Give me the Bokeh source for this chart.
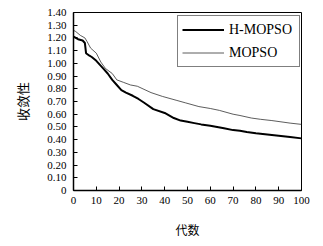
from bokeh.plotting import figure
from bokeh.models import Legend, LegendItem, FixedTicker, CustomJSTickFormatter
from bokeh.embed import file_html
from bokeh.resources import INLINE

# Data
h_gen = [0, 2, 4, 5, 5.5, 7, 8, 10, 11, 13, 15, 17, 19, 21, 23, 26, 28.5, 31, 35, 40, 44, 47,
         50, 53, 56, 60, 63, 66, 70, 73, 76, 80, 85, 90, 95, 100]
h_val = [1.21, 1.19, 1.18, 1.16, 1.08, 1.06, 1.05, 1.02, 1.00, 0.96, 0.92, 0.87, 0.83, 0.79, 0.77,
         0.745, 0.72, 0.69, 0.64, 0.61, 0.57, 0.55, 0.54, 0.53, 0.52, 0.51, 0.50, 0.49, 0.475,
         0.47, 0.46, 0.45, 0.44, 0.43, 0.42, 0.41]
m_gen = [0, 1, 3, 5, 6, 7.5, 10, 12, 14, 17, 19, 22, 25, 28, 34, 39, 45, 49, 55, 60, 64, 70,
         73, 78, 82, 87, 91, 95, 100]
m_val = [1.26, 1.25, 1.22, 1.20, 1.17, 1.12, 1.08, 1.01, 0.96, 0.92, 0.87, 0.85, 0.83, 0.82,
         0.77, 0.74, 0.71, 0.69, 0.66, 0.645, 0.63, 0.60, 0.59, 0.57, 0.56, 0.55, 0.54, 0.53, 0.52]
series_names = ["H-MOPSO", "MOPSO"]
x_ticks = [0, 10, 20, 30, 40, 50, 60, 70, 80, 90, 100]
y_ticks = [0, 0.1, 0.2, 0.3, 0.4, 0.5, 0.6, 0.7, 0.8, 0.9, 1.0, 1.1, 1.2, 1.3, 1.4]
x_title = "代数"
y_title = "收敛性"

p = figure(width=315, height=240, output_backend="svg", toolbar_location=None,
           x_range=(0, 100), y_range=(0, 1.4),
           min_border_left=73, min_border_right=14, min_border_top=12, min_border_bottom=41)
p.background_fill_color = "white"
p.border_fill_color = "white"
p.outline_line_color = "black"
p.outline_line_width = 1
p.xgrid.visible = False
p.ygrid.visible = False

r1 = p.line(h_gen, h_val, line_color="black", line_width=2.0)
r2 = p.line(m_gen, m_val, line_color="#333333", line_width=0.8)

serif = "Liberation Serif"
for ax in (p.xaxis[0], p.yaxis[0]):
    ax.axis_line_color = "black"
    ax.axis_line_width = 1.5
    ax.major_tick_in = 4
    ax.major_tick_out = 0
    ax.minor_tick_in = 0
    ax.minor_tick_out = 0
    ax.major_tick_line_color = "black"
    ax.major_label_text_font = serif
    ax.major_label_text_font_size = "11px"
    ax.major_label_text_color = "black"
    ax.axis_label_text_font = "Noto Sans CJK SC"
    ax.axis_label_text_font_style = "normal"
    ax.axis_label_text_color = "black"

p.xaxis.axis_label_text_font_size = "12px"
p.yaxis.axis_label_text_font_size = "13px"
p.xaxis.ticker = FixedTicker(ticks=x_ticks)
p.yaxis.ticker = FixedTicker(ticks=y_ticks)
p.yaxis.formatter = CustomJSTickFormatter(code="return tick == 0 ? '0' : tick.toFixed(2);")
p.xaxis.major_label_standoff = 6
p.yaxis.major_label_standoff = 7
p.xaxis.axis_label = x_title
p.yaxis.axis_label = y_title
p.xaxis.axis_label_standoff = 14
p.yaxis.axis_label_standoff = 12

legend = Legend(items=[LegendItem(label=series_names[0], renderers=[r1]),
                       LegendItem(label=series_names[1], renderers=[r2])],
                location=(104, 123))
legend.border_line_color = "black"
legend.border_line_width = 1
legend.background_fill_color = "white"
legend.background_fill_alpha = 1
legend.padding = 4
legend.margin = 0
legend.spacing = 4
legend.glyph_width = 42
legend.glyph_height = 19
legend.label_height = 19
legend.label_standoff = 5
legend.label_width = 66
legend.label_text_font = serif
legend.label_text_font_size = "14px"
legend.label_text_color = "black"
p.add_layout(legend, "center")

open("out.html", "w").write(file_html(p, INLINE))
